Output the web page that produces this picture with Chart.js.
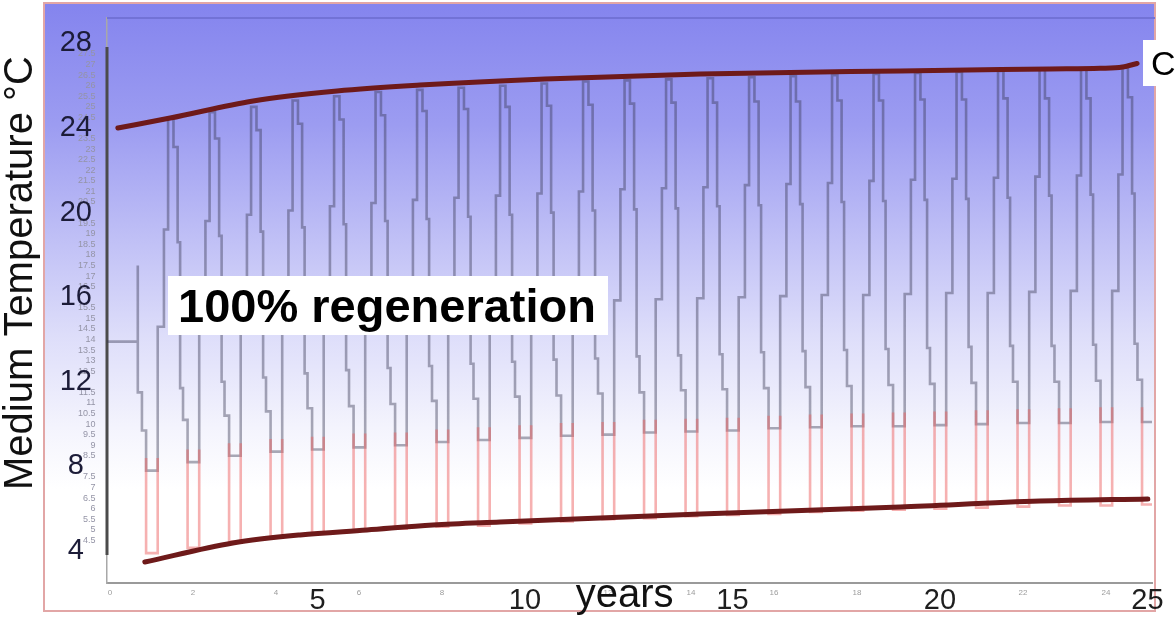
<!DOCTYPE html>
<html><head><meta charset="utf-8">
<script src="https://cdn.jsdelivr.net/npm/chart.js@4.4.1/dist/chart.umd.min.js"></script>
<style>html,body{margin:0;padding:0;background:#fff;overflow:hidden}</style>
</head><body>
<canvas id="c" width="1176" height="619"></canvas>
<script>
// ---------------- data ----------------
const X_MIN = -0.072, X_MAX = 25.11;
const Y_MIN = 2.487, Y_MAX = 29.2;

// start of the simulation (initial ground temperature, first descent)
const startYears = [-0.1, 0.67, 0.67, 0.77];
const startTemps = [13.9, 17.5, 11.5, 9.7];

// yearly troughs (year 1..25)
const troughYears = [1,2,3,4,5,6,7,8,9,10,11,12,13,14,15,16,17,18,19,20,21,22,23,24,25];
const troughTemps = [7.8,8.2,8.5,8.7,8.8,8.9,9.0,9.15,9.25,9.35,9.45,9.5,9.6,9.65,9.7,9.8,9.85,9.9,9.9,9.95,10.0,10.05,10.05,10.1,10.1];
const redTopTemps = [8.4,8.8,9.1,9.3,9.4,9.55,9.6,9.75,9.85,9.95,10.05,10.1,10.2,10.25,10.3,10.4,10.45,10.5,10.55,10.6,10.65,10.7,10.75,10.8,10.8];
const redMinTemps = [3.9,4.15,4.45,4.7,4.85,5.0,5.05,5.15,5.2,5.3,5.4,5.5,5.55,5.65,5.7,5.75,5.85,5.9,5.95,6.0,6.05,6.1,6.15,6.15,6.2];

// monthly step levels of each yearly cycle (year 1..24)
const riseStep1 = [14.6,14.9,15.1,15.2,15.3,15.4,15.5,15.6,15.7,15.75,15.8,15.85,15.9,15.95,16.0,16.05,16.1,16.1,16.15,16.2,16.2,16.25,16.3,16.3];
const riseStep2 = [19.2,19.6,19.9,20.1,20.3,20.45,20.6,20.7,20.8,20.9,21.0,21.1,21.15,21.2,21.3,21.35,21.4,21.5,21.55,21.6,21.65,21.7,21.75,21.8];
const peakTemps = [24.5,24.75,25.0,25.3,25.5,25.7,25.8,25.9,26.0,26.1,26.2,26.25,26.3,26.35,26.4,26.45,26.5,26.55,26.6,26.65,26.7,26.75,26.8,26.85];
const fallStep1 = [23.1,23.5,23.9,24.2,24.4,24.6,24.8,24.9,25.0,25.05,25.1,25.15,25.2,25.2,25.25,25.25,25.3,25.3,25.35,25.35,25.4,25.4,25.4,25.45];
const fallStep2 = [18.6,18.9,19.1,19.3,19.45,19.6,19.7,19.8,19.9,20.0,20.1,20.15,20.2,20.3,20.35,20.4,20.5,20.55,20.6,20.65,20.7,20.8,20.85,20.9];
const fallStep3 = [11.7,12.0,12.2,12.4,12.55,12.65,12.75,12.85,12.95,13.05,13.1,13.2,13.25,13.3,13.4,13.45,13.5,13.55,13.6,13.65,13.7,13.7,13.75,13.8];
const fallStep4 = [10.2,10.4,10.6,10.75,10.85,10.95,11.1,11.2,11.3,11.35,11.45,11.5,11.6,11.65,11.7,11.75,11.8,11.85,11.9,11.95,12.0,12.0,12.05,12.1];

// timing of the steps inside a year, relative to the trough year (years)
const troughStart = -0.13, troughEnd = 0.15;
const stepOffsets = [0.15, 0.30, 0.40, 0.53, 0.63, 0.69, 0.76];

// hand-drawn envelope curves
const upperEnvYears = [0.19,1.45,3.45,5.47,7.47,10.48,14.22,19.04,22.65,23.86,24.4,24.75];
const upperEnvTemps = [24.0,24.47,25.28,25.75,26.03,26.32,26.55,26.70,26.79,26.82,26.88,27.05];
const lowerEnvYears = [0.84,2.96,4.58,6.19,7.78,9.40,14.22,19.04,22.41,25.01];
const lowerEnvTemps = [3.48,4.38,4.76,4.99,5.23,5.37,5.75,6.08,6.36,6.46];

// dark bar of the original y axis
const axisBarTemps = [3.81, 27.83];

// ticks
const xTicks = [0,2,4,5,6,8,10,12,14,15,16,18,20,22,24,25];
const xBigTicks = [5,10,15,20,25];
const yBigTicks = [4,8,12,16,20,24,28];
const ySmallTicks = [4.5,5,5.5,6,6.5,7,7.5,8.5,9,9.5,10,10.5,11,11.5,12.5,13,13.5,14,14.5,15,15.5,16.5,17,17.5,18,18.5,19,19.5,20.5,21,21.5,22,22.5,23,23.5,24.5,25,25.5,26,26.5,27,27.5];

// ---------------- build series ----------------
const gray = [];
startYears.forEach((t, i) => gray.push({x: t, y: startTemps[i]}));
const cycleLevels = [riseStep1, riseStep2, peakTemps, fallStep1, fallStep2, fallStep3, fallStep4];
troughYears.forEach((n, i) => {
  gray.push({x: n + troughStart, y: troughTemps[i]});
  if (i < peakTemps.length) {
    stepOffsets.forEach((o, k) => gray.push({x: n + o, y: cycleLevels[k][i]}));
  } else {
    gray.push({x: n + troughEnd, y: troughTemps[i]});
  }
});

const red = [];
troughYears.forEach((n, i) => {
  red.push({x: n + troughStart, y: redTopTemps[i]});
  red.push({x: n + troughStart, y: redMinTemps[i]});
  red.push({x: n + troughEnd, y: redTopTemps[i]});
  red.push({x: n + troughEnd, y: null});
});

const upper = upperEnvYears.map((x, i) => ({x, y: upperEnvTemps[i]}));
const lower = lowerEnvYears.map((x, i) => ({x, y: lowerEnvTemps[i]}));
const axisBar = axisBarTemps.map(y => ({x: X_MIN, y}));

// ---------------- chart ----------------
const FAMILY = '"Liberation Sans", Arial, Helvetica, sans-serif';
Chart.defaults.font.family = FAMILY;

const isBigX = ctx => !!(ctx && ctx.tick && xBigTicks.includes(ctx.tick.value));

const deco = {
  id: 'deco',
  beforeDraw(chart) {
    const ctx = chart.ctx;
    ctx.save();
    ctx.fillStyle = '#ffffff';
    ctx.fillRect(0, 0, chart.width, chart.height);
    const fx = 44, fy = 3, fw = 1111, fh = 608;
    const g = ctx.createLinearGradient(0, fy, 0, fy + fh);
    g.addColorStop(0, '#8484ee');
    g.addColorStop(0.2, '#9c9cf1');
    g.addColorStop(0.4, '#c2c2f6');
    g.addColorStop(0.55, '#dedefa');
    g.addColorStop(0.7, '#f4f4fd');
    g.addColorStop(0.8, '#ffffff');
    g.addColorStop(1, '#ffffff');
    ctx.fillStyle = g;
    ctx.fillRect(fx, fy, fw, fh);
    ctx.strokeStyle = '#e2a6a6';
    ctx.lineWidth = 2;
    ctx.strokeRect(fx, fy, fw, fh);
    ctx.restore();
  },
  afterDraw(chart) {
    const {ctx, chartArea: a, scales} = chart;
    ctx.save();
    ctx.strokeStyle = '#7272d6';
    ctx.lineWidth = 2;
    ctx.beginPath();
    ctx.moveTo(a.left, a.top);
    ctx.lineTo(a.right + 3, a.top);
    ctx.stroke();
    ctx.fillStyle = '#ffffff';
    ctx.fillRect(168, 276, 440, 59);
    ctx.fillStyle = '#000000';
    ctx.font = 'bold 47px ' + FAMILY;
    ctx.textBaseline = 'alphabetic';
    ctx.textAlign = 'left';
    ctx.fillText('100% regeneration', 178, 322);
    ctx.fillStyle = '#ffffff';
    ctx.fillRect(1143, 40, 33, 46);
    ctx.fillStyle = '#000000';
    ctx.font = '34px ' + FAMILY;
    ctx.fillText('C', 1151, 75);
    ctx.font = '40px ' + FAMILY;
    ctx.textAlign = 'center';
    ctx.fillStyle = '#111111';
    ctx.fillText('years', scales.x.getPixelForValue(12.4), 607);
    ctx.translate(32, 490);
    ctx.rotate(-Math.PI / 2);
    ctx.textAlign = 'left';
    ctx.fillText('Medium Temperature \u00B0C', 0, 0);
    ctx.restore();
  }
};

new Chart(document.getElementById('c'), {
  type: 'line',
  data: {
    datasets: [
      {label: 'upper envelope', data: upper, xAxisID: 'x', yAxisID: 'y', borderColor: '#6e1a1a', borderWidth: 5,
       pointRadius: 0, cubicInterpolationMode: 'monotone', borderCapStyle: 'round', order: 0},
      {label: 'lower envelope', data: lower, xAxisID: 'x', yAxisID: 'y', borderColor: '#6e1a1a', borderWidth: 5,
       pointRadius: 0, cubicInterpolationMode: 'monotone', borderCapStyle: 'round', order: 0},
      {label: 'peak load', data: red, xAxisID: 'x', yAxisID: 'y', borderColor: 'rgba(238,100,100,0.5)', borderWidth: 2.6,
       pointRadius: 0, stepped: true, spanGaps: false, order: 1},
      {label: 'medium temperature', data: gray, xAxisID: 'x', yAxisID: 'y', borderColor: 'rgba(55,55,80,0.42)', borderWidth: 2.6,
       pointRadius: 0, stepped: true, order: 2},
      {label: 'axis', data: axisBar, xAxisID: 'x', yAxisID: 'y', borderColor: '#4b4b4b', borderWidth: 3,
       pointRadius: 0, clip: false, order: 3}
    ]
  },
  options: {
    responsive: false,
    animation: false,
    devicePixelRatio: 1,
    layout: {padding: {left: 0, right: 24, top: 18, bottom: 0}},
    plugins: {legend: {display: false}, tooltip: {enabled: false}},
    scales: {
      x: {
        type: 'linear', position: 'bottom', min: X_MIN, max: X_MAX,
        grid: {display: false, drawTicks: false},
        border: {display: true, color: '#9a9a9a', width: 2},
        afterBuildTicks: s => { s.ticks = xTicks.map(v => ({value: v})); },
        afterFit: s => { s.height = 36; },
        ticks: {
          autoSkip: false, maxRotation: 0, minRotation: 0, padding: 1,
          callback: v => String(v),
          font: ctx => isBigX(ctx)
            ? {size: 29, lineHeight: 1.2, family: FAMILY}
            : {size: 8, lineHeight: 2.2, family: FAMILY},
          color: ctx => isBigX(ctx) ? '#1e1e1e' : '#9c9c9c'
        }
      },
      y: {
        type: 'linear', position: 'left', weight: 0, min: Y_MIN, max: Y_MAX,
        grid: {display: false, drawTicks: false},
        border: {display: true, color: '#a8a8a8', width: 1.5},
        afterBuildTicks: s => { s.ticks = ySmallTicks.map(v => ({value: v})); },
        afterFit: s => { s.width = 14; },
        ticks: {autoSkip: false, mirror: true, crossAlign: 'far', padding: -29, callback: v => String(v),
                font: {size: 9, family: FAMILY}, color: '#9494a6'}
      },
      yBig: {
        type: 'linear', position: 'left', weight: 1, min: Y_MIN, max: Y_MAX,
        grid: {display: false, drawTicks: false},
        border: {display: false},
        afterBuildTicks: s => { s.ticks = yBigTicks.map(v => ({value: v})); },
        afterFit: s => { s.width = 93; },
        ticks: {autoSkip: false, padding: 1, crossAlign: 'center', callback: v => String(v),
                font: {size: 29, lineHeight: 1, family: FAMILY}, color: '#1c1c38'}
      }
    }
  },
  plugins: [deco]
});
</script>
</body></html>
